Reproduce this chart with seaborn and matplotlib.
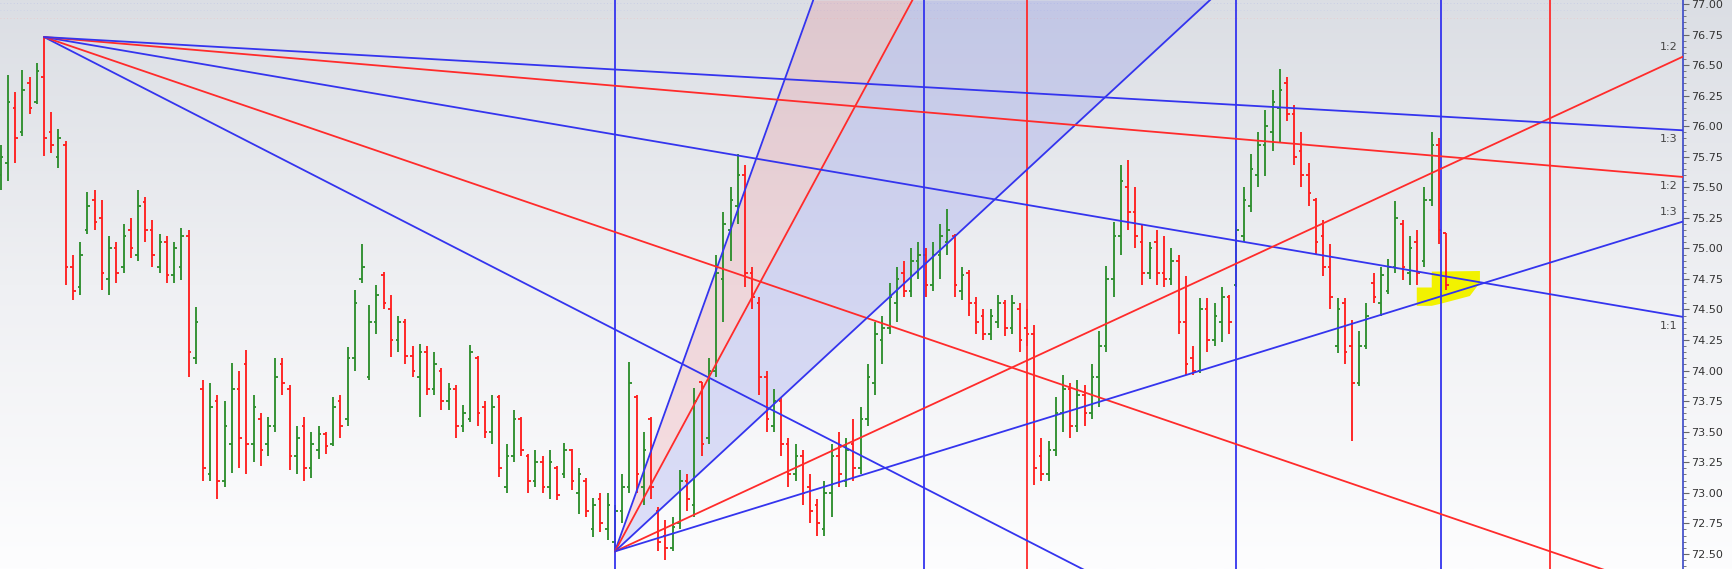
import numpy as np
import matplotlib
matplotlib.use("Agg")
import matplotlib.pyplot as plt
import seaborn as sns
from matplotlib.colors import LinearSegmentedColormap
from matplotlib.patches import Polygon
from matplotlib.ticker import MultipleLocator, FormatStrFormatter

# ---- price bars (one entry per session) ----
bar_open = [75.60, 75.70, 76.15, 75.95, 76.35, 76.20, 76.40, 75.95, 75.75, 75.85,
            74.85, 74.68, 75.15, 75.40, 75.25, 74.75, 75.00, 74.85, 75.15, 74.95,
            75.38, 75.15, 74.85, 75.05, 74.78, 74.85, 75.10, 74.10, 73.85, 73.15,
            73.75, 73.10, 73.40, 73.85, 74.05, 73.40, 73.60, 73.40, 73.55, 74.05,
            73.85, 73.30, 73.55, 73.20, 73.35, 73.48, 73.40, 73.75, 73.60, 74.10,
            74.75, 73.95, 74.40, 74.78, 74.50, 74.25, 74.40, 74.12, 73.95, 74.15,
            73.85, 74.00, 73.75, 73.85, 73.55, 73.60, 74.10, 73.70, 73.50, 73.78,
            73.05, 73.30, 73.60, 73.30, 73.10, 73.25, 73.05, 73.20, 73.15, 73.35,
            73.00, 73.10, 72.70, 72.95, 72.70, 72.60, 72.85, 73.05, 73.78, 73.05,
            73.60, 72.85, 72.65, 72.55, 72.75, 73.10, 72.90, 73.91, 73.45, 74.00,
            74.75, 75.15, 75.35, 75.60, 74.80, 74.55, 73.95, 73.55, 73.75, 73.40,
            73.15, 73.30, 73.05, 72.90, 72.70, 73.00, 73.30, 73.10, 73.40, 73.20,
            73.60, 73.90, 74.25, 74.35, 74.55, 74.80, 74.65, 74.90, 74.95, 74.70,
            74.95, 75.05, 75.10, 74.65, 74.80, 74.55, 74.45, 74.30, 74.40, 74.55,
            74.35, 74.50, 74.35, 74.30, 73.30, 73.15, 73.35, 73.65, 73.85, 73.55,
            73.80, 73.65, 73.95, 74.20, 74.75, 75.10, 75.50, 75.30, 75.05, 74.80,
            75.05, 74.80, 74.75, 74.90, 74.40, 74.10, 74.00, 74.50, 74.25, 74.40,
            74.60, 74.70, 75.10, 75.35, 75.60, 75.85, 75.95, 76.15, 76.35, 76.10,
            75.80, 75.60, 75.40, 75.10, 74.85, 74.20, 74.55, 74.20, 73.90, 74.20,
            74.72, 74.55, 74.65, 74.85, 75.20, 74.80, 75.05, 74.90, 75.40, 75.85,
            75.13]
bar_high = [75.85, 76.42, 76.28, 76.46, 76.40, 76.52, 76.73, 76.12, 75.98, 75.88,
            74.95, 75.05, 75.46, 75.48, 75.40, 75.10, 75.05, 75.20, 75.25, 75.48,
            75.42, 75.23, 75.12, 75.10, 75.05, 75.17, 75.15, 74.52, 73.92, 73.90,
            73.80, 73.75, 74.06, 74.00, 74.17, 73.80, 73.65, 73.62, 74.10, 74.10,
            73.88, 73.55, 73.62, 73.50, 73.55, 73.50, 73.78, 73.80, 74.19, 74.66,
            75.04, 74.54, 74.70, 74.81, 74.62, 74.45, 74.42, 74.20, 74.22, 74.20,
            74.15, 74.02, 73.90, 73.88, 73.72, 74.21, 74.12, 73.75, 73.80, 73.80,
            73.40, 73.68, 73.62, 73.32, 73.35, 73.30, 73.35, 73.22, 73.41, 73.36,
            73.20, 73.12, 72.96, 73.00, 73.00, 72.90, 73.15, 74.07, 73.80, 73.50,
            73.62, 72.88, 72.78, 72.80, 73.19, 73.15, 73.86, 73.91, 74.10, 74.95,
            75.30, 75.50, 75.77, 75.68, 74.85, 74.60, 74.00, 73.85, 73.78, 73.45,
            73.40, 73.35, 73.15, 72.95, 73.10, 73.40, 73.50, 73.45, 73.60, 73.70,
            74.05, 74.40, 74.45, 74.72, 74.85, 74.90, 75.00, 75.05, 75.00, 75.05,
            75.20, 75.32, 75.12, 74.85, 74.82, 74.60, 74.50, 74.50, 74.62, 74.58,
            74.62, 74.55, 74.50, 74.37, 73.45, 73.42, 73.78, 73.96, 73.90, 73.92,
            73.88, 74.05, 74.32, 74.86, 75.22, 75.68, 75.72, 75.50, 75.20, 75.05,
            75.15, 75.10, 75.00, 74.95, 74.77, 74.20, 74.59, 74.59, 74.55, 74.68,
            74.62, 75.23, 75.50, 75.77, 75.95, 76.13, 76.30, 76.47, 76.40, 76.17,
            75.95, 75.70, 75.41, 75.23, 75.04, 74.59, 74.59, 74.41, 74.32, 74.55,
            74.80, 74.85, 74.91, 75.39, 75.23, 75.10, 75.15, 75.50, 75.95, 75.90,
            75.13]
bar_low = [75.48, 75.55, 75.70, 75.92, 76.10, 76.18, 75.76, 75.78, 75.66, 74.70,
           74.58, 74.62, 75.12, 75.15, 74.66, 74.62, 74.72, 74.80, 74.92, 74.90,
           75.05, 74.85, 74.80, 74.72, 74.72, 74.74, 73.95, 74.05, 73.10, 73.10,
           72.95, 73.05, 73.16, 73.20, 73.15, 73.25, 73.22, 73.30, 73.50, 73.80,
           73.19, 73.15, 73.10, 73.12, 73.28, 73.32, 73.38, 73.45, 73.55, 74.00,
           74.72, 73.92, 74.30, 74.50, 74.11, 74.15, 74.05, 73.95, 73.62, 73.80,
           73.80, 73.68, 73.68, 73.45, 73.50, 73.58, 73.55, 73.45, 73.40, 73.13,
           73.00, 73.25, 73.30, 73.00, 73.05, 73.00, 72.95, 72.94, 73.12, 73.02,
           72.83, 72.80, 72.64, 72.68, 72.61, 72.52, 72.75, 73.00, 73.00, 72.90,
           72.95, 72.52, 72.45, 72.52, 72.70, 72.85, 72.80, 73.30, 73.40, 73.95,
           74.40, 74.90, 75.20, 74.68, 74.50, 73.80, 73.50, 73.50, 73.30, 73.05,
           73.10, 72.90, 72.75, 72.65, 72.65, 72.80, 73.05, 73.05, 73.10, 73.15,
           73.55, 73.80, 74.05, 74.30, 74.40, 74.60, 74.60, 74.75, 74.60, 74.65,
           74.75, 74.95, 74.60, 74.58, 74.45, 74.30, 74.25, 74.25, 74.35, 74.28,
           74.30, 74.15, 74.20, 73.06, 73.10, 73.10, 73.30, 73.50, 73.45, 73.50,
           73.55, 73.60, 73.70, 74.15, 74.60, 74.95, 75.15, 75.00, 74.70, 74.75,
           74.70, 74.68, 74.70, 74.30, 73.96, 73.96, 73.98, 74.15, 74.20, 74.23,
           74.30, 74.68, 75.05, 75.30, 75.50, 75.59, 75.80, 75.86, 76.04, 75.68,
           75.50, 75.35, 74.95, 74.77, 74.50, 74.14, 74.05, 73.42, 73.87, 74.18,
           74.55, 74.45, 74.63, 74.80, 74.74, 74.70, 74.70, 74.85, 75.35, 75.04,
           74.66]
bar_close = [75.75, 76.20, 75.90, 76.30, 76.15, 76.45, 75.90, 75.85, 75.90, 74.85,
             74.65, 74.95, 75.35, 75.22, 74.80, 75.00, 74.80, 75.10, 75.00, 75.35,
             75.15, 74.95, 75.05, 74.78, 75.00, 75.10, 74.15, 74.40, 73.20, 73.70,
             73.10, 73.55, 73.85, 73.45, 73.40, 73.70, 73.35, 73.55, 73.95, 73.90,
             73.30, 73.45, 73.20, 73.40, 73.48, 73.38, 73.70, 73.55, 74.10, 74.55,
             74.85, 74.40, 74.62, 74.55, 74.25, 74.40, 74.12, 74.00, 74.15, 73.85,
             74.05, 73.75, 73.85, 73.55, 73.65, 74.15, 73.65, 73.50, 73.70, 73.20,
             73.30, 73.60, 73.35, 73.10, 73.25, 73.05, 73.25, 72.98, 73.35, 73.10,
             73.15, 72.85, 72.90, 72.75, 72.90, 72.85, 73.05, 73.90, 73.15, 73.35,
             73.05, 72.60, 72.55, 72.72, 73.10, 72.95, 73.75, 73.40, 74.00, 74.80,
             75.20, 75.40, 75.60, 74.80, 74.60, 73.95, 73.60, 73.75, 73.40, 73.15,
             73.30, 73.00, 72.85, 72.75, 73.00, 73.30, 73.15, 73.35, 73.20, 73.60,
             73.95, 74.30, 74.35, 74.60, 74.75, 74.65, 74.90, 74.95, 74.70, 74.95,
             75.10, 75.15, 74.70, 74.78, 74.55, 74.40, 74.30, 74.45, 74.55, 74.35,
             74.55, 74.25, 74.30, 73.20, 73.15, 73.35, 73.65, 73.85, 73.55, 73.80,
             73.65, 73.95, 74.20, 74.75, 75.10, 75.55, 75.30, 75.10, 74.80, 75.00,
             74.80, 74.75, 74.90, 74.40, 74.05, 74.00, 74.50, 74.25, 74.45, 74.60,
             74.40, 75.15, 75.40, 75.65, 75.85, 76.00, 76.20, 76.30, 76.10, 75.75,
             75.60, 75.45, 75.05, 74.85, 74.60, 74.50, 74.15, 73.90, 74.20, 74.45,
             74.60, 74.78, 74.85, 75.25, 74.85, 75.00, 74.80, 75.40, 75.85, 75.15,
             74.70]

# ---- Gann fans: anchor (bar, price), 1x1 slope in price per bar ----
fall_anchor = (6, 76.73)
fall_unit = 0.0101
rise_anchor = (85, 72.52)
rise_unit = 0.0548
fan_ratios = [3, 2, 1, 1 / 2, 1 / 3]
fan_names = ["3:1", "2:1", "1:1", "1:2", "1:3"]

# time cycle verticals
cycle_bars = [85, 127.8, 142, 170.9, 199.3, 214.4]
cycle_kind = ["blue", "blue", "red", "blue", "blue", "red"]

# highlighted squeeze zone
zone_bar = [195.96, 195.96, 198.03, 198.03, 204.7, 204.7, 203.3, 199.14, 198.03]
zone_price = [74.53, 74.68, 74.68, 74.81, 74.815, 74.72, 74.61, 74.545, 74.53]

BLUE = "#3434ee"
RED = "#ff2b2b"
GREEN = "#2f8f2f"
BAR_RED = "#ff2020"

sns.set_style("white")

fig = plt.figure(figsize=(17.32, 5.69), dpi=100)

# background gradient behind everything
bg = fig.add_axes([0, 0, 1, 1], zorder=0)
grad_cmap = LinearSegmentedColormap.from_list(
    "bg", [(0.0, "#fdfdfe"), (0.5, "#eff0f3"), (1.0, "#dbdee4")])
bg.imshow(np.linspace(0, 1, 256)[:, None], aspect="auto", cmap=grad_cmap,
          extent=[0, 1, 0, 1], origin="lower")
bg.set_axis_off()

ax = fig.add_axes([0, 0, 1683 / 1732, 1], zorder=1)
ax.patch.set_alpha(0)

x_lo, x_hi = -0.09, 232.8
y_lo, y_hi = 72.376, 77.033
ax.set_xlim(x_lo, x_hi)
ax.set_ylim(y_lo, y_hi)

# faint dotted rows at the very top
for lvl, col in [(77.008, "#c4c9e6"), (76.95, "#ccd0e8"), (76.885, "#ecc6cb")]:
    ax.axhline(lvl, color=col, lw=0.6, ls=(0, (1, 3)), zorder=1)

# fan shading on the rising fan
xs = np.linspace(rise_anchor[0], x_hi, 600)
rise_lines = {r: rise_anchor[1] + r * rise_unit * (xs - rise_anchor[0]) for r in fan_ratios}
ax.fill_between(xs, np.minimum(rise_lines[2], y_hi), np.minimum(rise_lines[3], y_hi),
                color=(0.92, 0.43, 0.47), alpha=0.2, lw=0, zorder=2)
ax.fill_between(xs, np.minimum(rise_lines[1], y_hi), np.minimum(rise_lines[2], y_hi),
                color=(0.43, 0.47, 0.92), alpha=0.22, lw=0, zorder=2)

# yellow highlight
ax.add_patch(Polygon(np.column_stack([zone_bar, zone_price]), closed=True,
                     facecolor="#f2f200", edgecolor="none", zorder=3))

# OHLC bars
idx = np.arange(len(bar_close))
o = np.array(bar_open)
h = np.array(bar_high)
l = np.array(bar_low)
c = np.array(bar_close)
cols = np.where(c >= o, GREEN, BAR_RED)
tick = 0.36
ax.vlines(idx, l, h, colors=cols, lw=1.35, zorder=4)
ax.hlines(o, idx - tick, idx, colors=cols, lw=1.35, zorder=4)
ax.hlines(c, idx, idx + tick, colors=cols, lw=1.35, zorder=4)

# vertical time lines
for xb, k in zip(cycle_bars, cycle_kind):
    ax.axvline(xb, color=BLUE if k == "blue" else RED, lw=1.3, zorder=5)

# fan lines
fan_cols = [BLUE, RED, BLUE, RED, BLUE]
for r, col in zip(fan_ratios, fan_cols):
    fx = [fall_anchor[0], x_hi]
    fy = [fall_anchor[1], fall_anchor[1] - r * fall_unit * (x_hi - fall_anchor[0])]
    sns.lineplot(x=fx, y=fy, color=col, lw=1.3, ax=ax, zorder=6)
    rx = [rise_anchor[0], x_hi]
    ry = [rise_anchor[1], rise_anchor[1] + r * rise_unit * (x_hi - rise_anchor[0])]
    sns.lineplot(x=rx, y=ry, color=col, lw=1.3, ax=ax, zorder=6)

# ratio labels at the right edge
for r, name in zip(fan_ratios, fan_names):
    end_fall = fall_anchor[1] - r * fall_unit * (x_hi - fall_anchor[0])
    if y_lo < end_fall < y_hi:
        ax.text(0.9965, end_fall - 0.075, name, transform=ax.get_yaxis_transform(),
                ha="right", va="center", fontsize=8, color="#444444", zorder=7)
    end_rise = rise_anchor[1] + r * rise_unit * (x_hi - rise_anchor[0])
    if y_lo < end_rise < y_hi:
        ax.text(0.9965, end_rise + 0.08, name, transform=ax.get_yaxis_transform(),
                ha="right", va="center", fontsize=8, color="#444444", zorder=7)

# price axis on the right
ax.set_xticks([])
ax.yaxis.tick_right()
ax.yaxis.set_major_locator(MultipleLocator(0.25))
ax.yaxis.set_minor_locator(MultipleLocator(0.05))
ax.yaxis.set_major_formatter(FormatStrFormatter("%.2f"))
ax.tick_params(axis="y", which="major", length=4.5, width=0.8, color="#666666",
               labelsize=8, labelcolor="#333333", pad=1.5)
ax.tick_params(axis="y", which="minor", length=2.2, width=0.7, color="#777777")
for side in ["left", "top", "bottom"]:
    ax.spines[side].set_visible(False)
ax.spines["right"].set_color("#3a48c8")
ax.spines["right"].set_linewidth(1.2)
ax.set_xlabel("")
ax.set_ylabel("")

fig.savefig("out.png", dpi=100)
plt.close(fig)
